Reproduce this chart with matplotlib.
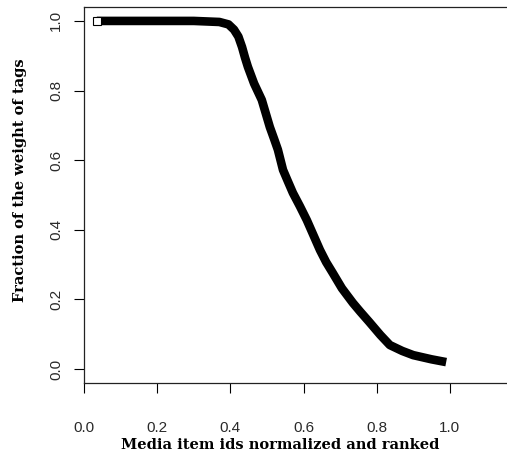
import matplotlib.pyplot as plt

# values
rank = [0.035, 0.10, 0.20, 0.30, 0.37, 0.395, 0.41, 0.422, 0.432, 0.44, 0.448,
        0.465, 0.486, 0.508, 0.52, 0.53, 0.544, 0.557, 0.571, 0.59, 0.609,
        0.627, 0.645, 0.662, 0.68, 0.705, 0.735, 0.755, 0.78, 0.81, 0.836,
        0.87, 0.90, 0.95, 0.99]
weight = [1.0, 1.0, 1.0, 1.0, 0.997, 0.99, 0.975, 0.955, 0.925, 0.895, 0.868,
          0.82, 0.773, 0.695, 0.66, 0.63, 0.572, 0.54, 0.506, 0.468, 0.428,
          0.385, 0.342, 0.307, 0.276, 0.232, 0.19, 0.165, 0.135, 0.098, 0.069,
          0.052, 0.040, 0.028, 0.02]

xticks = [0.0, 0.2, 0.4, 0.6, 0.8, 1.0]
yticks = [0.0, 0.2, 0.4, 0.6, 0.8, 1.0]

W, H = 507, 461
fig = plt.figure(figsize=(W / 100, H / 100), dpi=100)
ax = fig.add_axes([84 / W, 1 - 383 / H, (523 - 84) / W, (383 - 7) / H])

ax.plot(rank, weight, color='black', lw=6.2, solid_capstyle='butt',
        solid_joinstyle='round')
ax.plot(rank[:1], weight[:1], 's', ms=6, mfc='white', mec='black', mew=0.8)

ax.set_xlim(0, 1.2)
ax.set_ylim(-0.04, 1.04)
ax.set_xticks(xticks)
ax.set_xticklabels([f'{t:.1f}' for t in xticks])
ax.set_yticks(yticks)
ax.set_yticklabels([f'{t:.1f}' for t in yticks], rotation=90, va='center')

ax.tick_params(axis='x', direction='out', length=7, width=0.8, pad=20,
               labelsize=11, labelcolor='#2a2a2a')
ax.tick_params(axis='y', direction='out', length=7, width=0.8, pad=8,
               labelsize=11, labelcolor='#2a2a2a')
for lab in ax.get_xticklabels() + ax.get_yticklabels():
    lab.set_fontfamily('Liberation Sans')
for s in ax.spines.values():
    s.set_linewidth(0.9)
    s.set_color('#222222')

fig.text(280 / W, 1 - 445 / H, 'Media item ids normalized and ranked',
         family='DejaVu Serif', weight='bold', fontsize=10.5,
         ha='center', va='center')
fig.text(20 / W, 1 - 180 / H, 'Fraction of the weight of tags',
         family='DejaVu Serif', weight='bold', fontsize=10.5,
         ha='center', va='center', rotation=90)

fig.savefig('out.png', dpi=100)
